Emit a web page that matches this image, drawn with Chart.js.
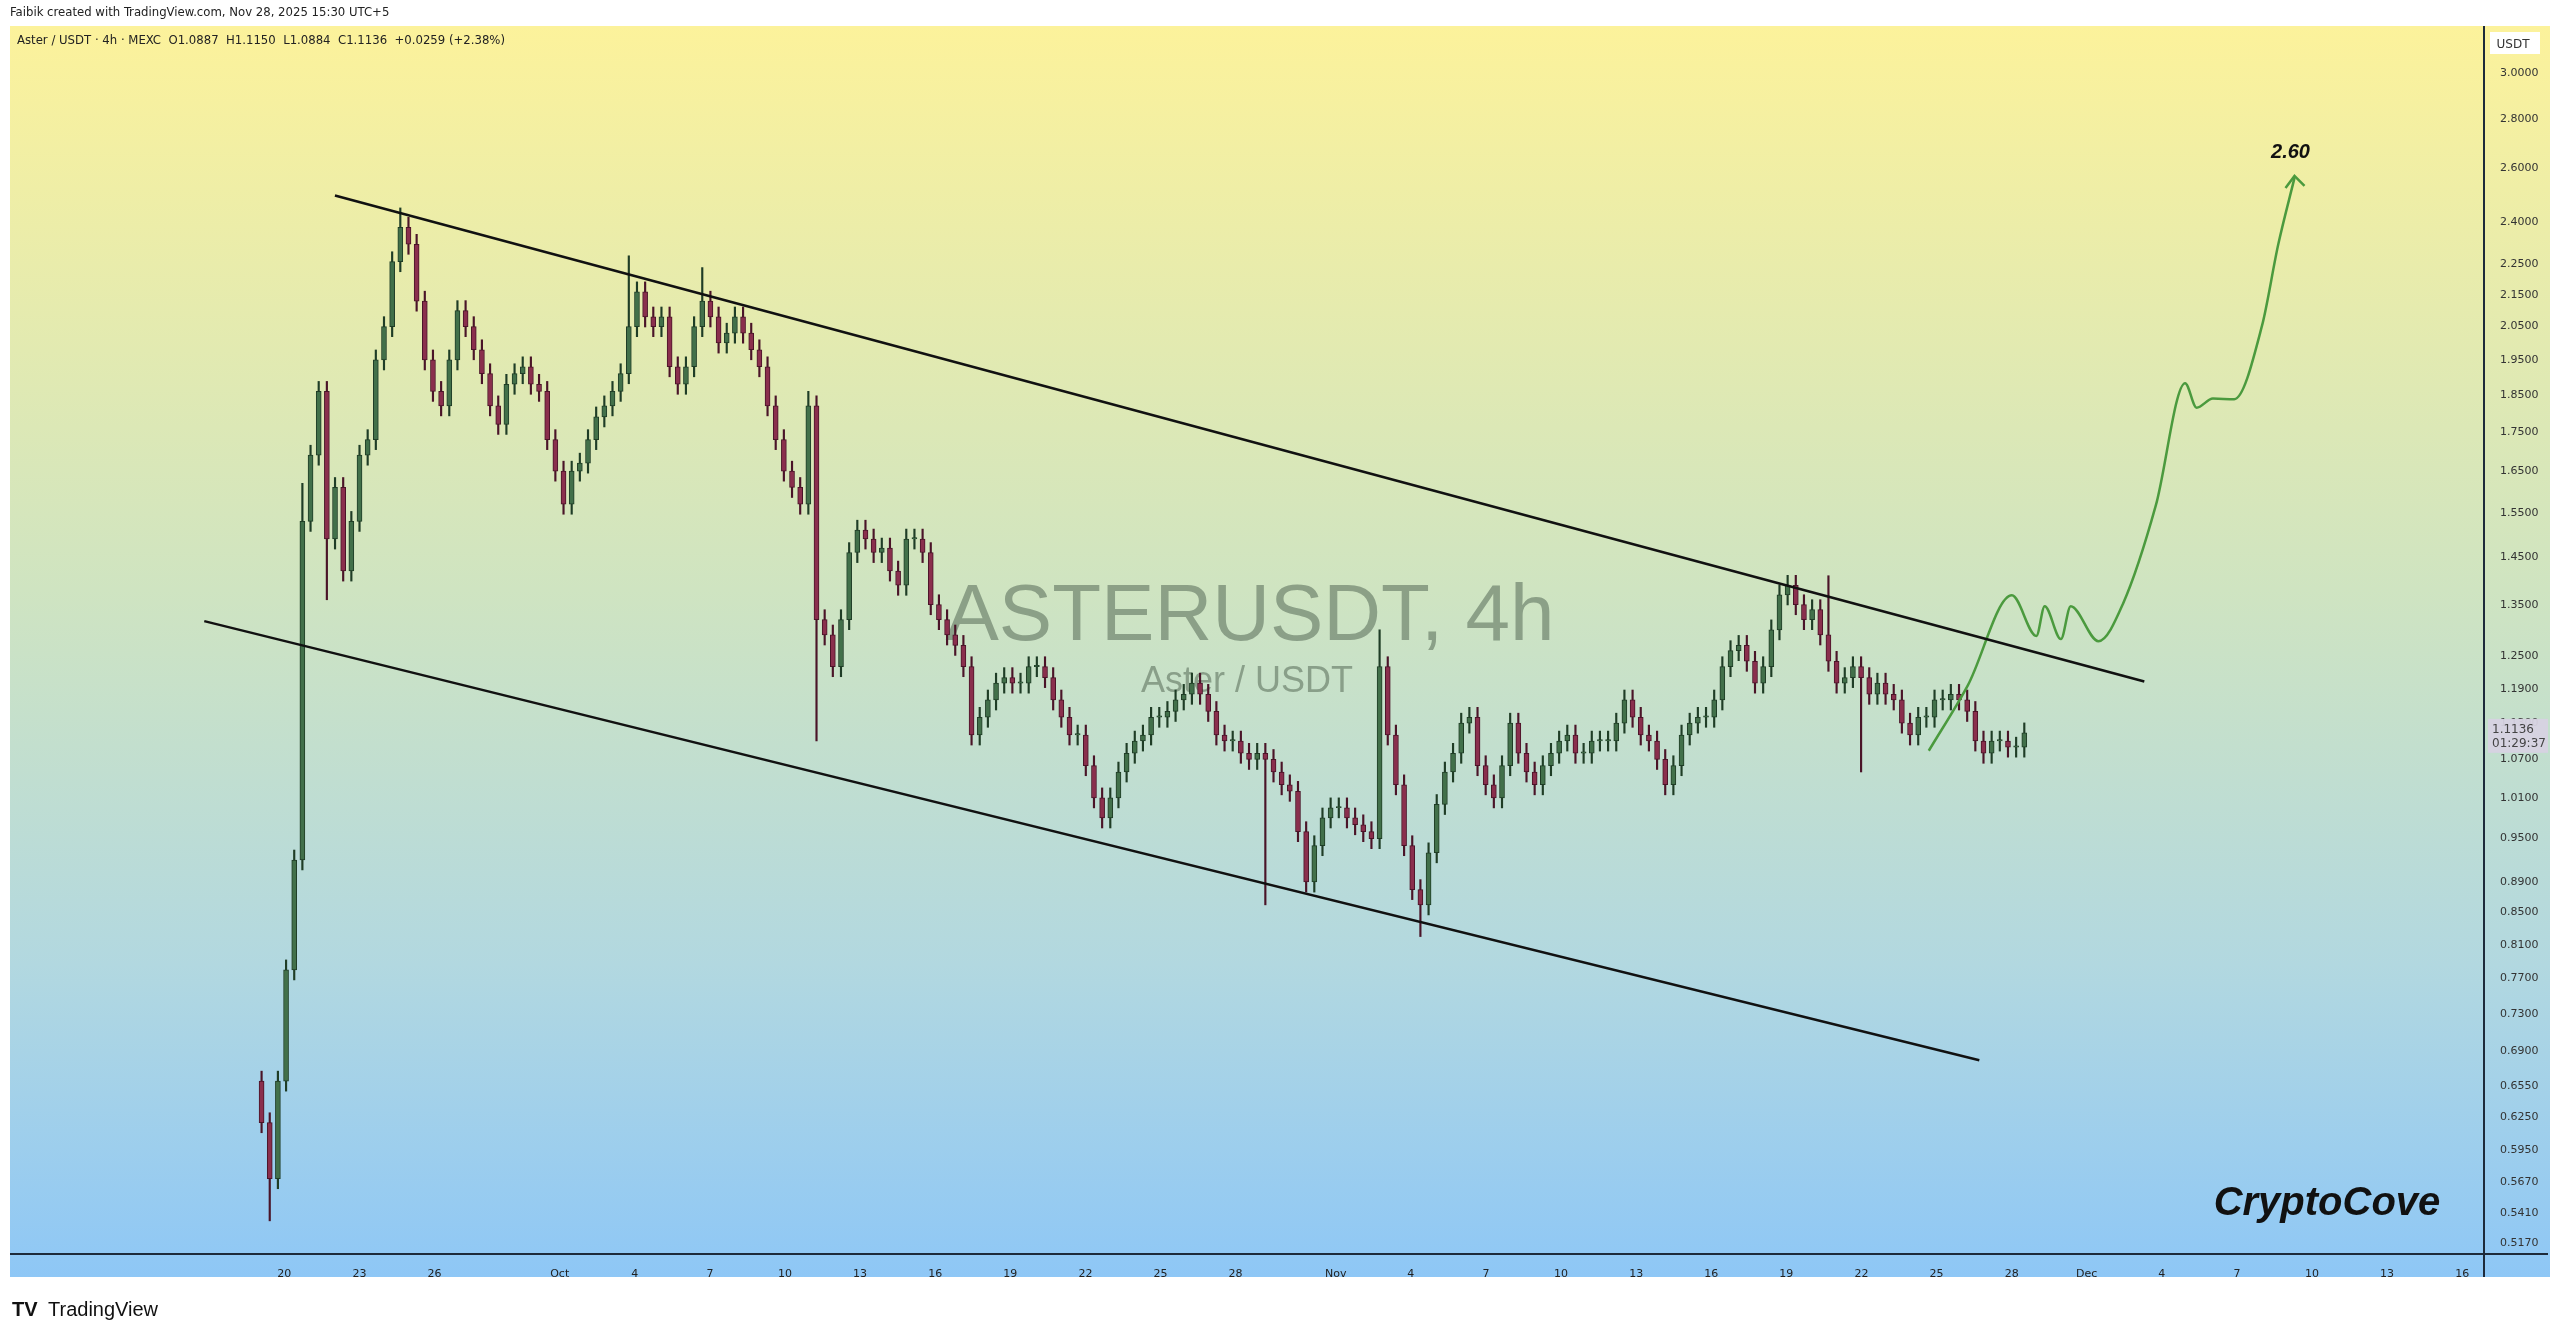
<!DOCTYPE html>
<html>
<head>
<meta charset="utf-8">
<script src="https://cdn.jsdelivr.net/npm/chart.js@4.4.0/dist/chart.umd.min.js"></script>
<style>
  html, body { margin: 0; padding: 0; background: #ffffff; overflow: hidden; }
  #c { position: absolute; left: 0; top: 0; width: 2560px; height: 1339px; }
</style>
</head>
<body>
<canvas id="c" width="2560" height="1339"></canvas>
<script>
// day numbers: Sep 1 = 1, Oct 1 = 31, Nov 1 = 62, Dec 1 = 92
const startDay = 19.09;
const candleStep = 0.326;

// closes, one per candle step
const closes = [
  0.62,0.57,0.66,0.78,0.92,1.53,1.69,1.86,1.49,1.61,1.42,1.53,1.69,1.73,1.95,2.05,2.26,2.38,2.32,2.13,
  1.95,1.86,1.82,1.95,2.10,2.05,1.98,1.91,1.82,1.77,1.88,1.91,1.93,1.88,1.86,1.73,1.65,1.57,1.65,1.67,
  1.73,1.79,1.82,1.86,1.91,2.05,2.16,2.08,2.05,2.08,1.93,1.88,1.93,2.05,2.13,2.08,2.00,2.03,2.08,2.03,
  1.98,1.93,1.82,1.73,1.65,1.61,1.57,1.82,1.32,1.29,1.23,1.32,1.46,1.51,1.49,1.46,1.47,1.42,1.39,1.49,
  1.49,1.46,1.35,1.32,1.29,1.27,1.23,1.11,1.14,1.17,1.20,1.21,1.20,1.20,1.23,1.23,1.21,1.17,1.14,1.11,
  1.11,1.06,1.01,0.98,1.01,1.05,1.08,1.10,1.11,1.14,1.14,1.15,1.17,1.18,1.20,1.18,1.15,1.11,1.10,1.10,
  1.08,1.07,1.08,1.07,1.05,1.03,1.02,0.96,0.89,0.94,0.98,0.995,0.995,0.98,0.97,0.96,0.95,1.23,1.11,1.03,
  0.94,0.88,0.86,0.93,1.00,1.05,1.08,1.13,1.14,1.06,1.03,1.01,1.06,1.13,1.08,1.05,1.03,1.06,1.08,1.10,
  1.11,1.08,1.08,1.10,1.10,1.10,1.13,1.17,1.14,1.11,1.10,1.07,1.03,1.06,1.11,1.13,1.14,1.14,1.17,1.23,
  1.26,1.27,1.24,1.20,1.23,1.30,1.37,1.39,1.35,1.32,1.34,1.29,1.24,1.20,1.21,1.23,1.21,1.18,1.20,1.18,
  1.17,1.13,1.11,1.14,1.14,1.17,1.17,1.18,1.17,1.15,1.10,1.08,1.10,1.10,1.09,1.09,1.1136
];
const firstOpen = 0.66;
const wickPad = 0.015;
// long wicks that stand out in the picture (candle index -> price)
const highWicks = { 5: 1.62, 17: 2.45, 45: 2.28, 54: 2.24, 67: 1.86, 137: 1.30, 192: 1.41 };
const lowWicks = { 1: 0.535, 8: 1.36, 68: 1.10, 123: 0.86, 142: 0.82, 196: 1.05 };

// channel lines: [day, price]
const upperChannel = [[22.02, 2.496], [94.30, 1.203]];
const lowerChannel = [[16.80, 1.317], [87.71, 0.681]];
// projected path
const projDays = [85.69, 87.25, 89.01, 89.99, 90.32, 90.97, 91.36, 92.47, 93.45, 94.76, 95.93, 96.39, 97.04, 97.89, 99.00, 99.65, 100.30];
const projPrices = [1.084, 1.196, 1.369, 1.288, 1.347, 1.282, 1.347, 1.278, 1.352, 1.567, 1.883, 1.815, 1.840, 1.838, 2.052, 2.319, 2.563];

const priceTicks = [0.517, 0.541, 0.567, 0.595, 0.625, 0.655, 0.69, 0.73, 0.77, 0.81, 0.85, 0.89, 0.95, 1.01, 1.07, 1.13,
  1.19, 1.25, 1.35, 1.45, 1.55, 1.65, 1.75, 1.85, 1.95, 2.05, 2.15, 2.25, 2.4, 2.6, 2.8, 3.0];
const dayTicks = [20, 23, 26, 31, 34, 37, 40, 43, 46, 49, 52, 55, 58, 62, 65, 68, 71, 74, 77, 80, 83, 86, 89, 92, 95, 98, 101, 104, 107];
const dayLabels = ['20','23','26','Oct','4','7','10','13','16','19','22','25','28','Nov','4','7','10','13','16','19','22','25','28','Dec','4','7','10','13','16'];

const GREEN = '#42704a', RED = '#8a2f4d', EDGE_G = '#1f3d26', EDGE_R = '#4a1428';

const bodies = [], wicks = [];
closes.forEach((c, i) => {
  const o = i === 0 ? firstOpen : closes[i - 1];
  const x = startDay + i * candleStep;
  const hi = highWicks[i] || Math.max(o, c) * (1 + wickPad);
  const lo = lowWicks[i] || Math.min(o, c) * (1 - wickPad);
  bodies.push({ x: x, y: [o, c === o ? c * 1.002 : c], up: c >= o });
  wicks.push({ x: x, y: [lo, hi], up: c >= o });
});

const bgPlugin = {
  id: 'bg',
  beforeDraw(chart) {
    const ctx = chart.ctx;
    const g = ctx.createLinearGradient(0, 26, 0, 1277);
    g.addColorStop(0, '#fcf29b');
    g.addColorStop(0.45, '#cfe4c1');
    g.addColorStop(0.75, '#b2d8e0');
    g.addColorStop(1, '#8ec7f6');
    ctx.save();
    ctx.fillStyle = '#ffffff';
    ctx.fillRect(0, 0, 2560, 1339);
    ctx.fillStyle = g;
    ctx.fillRect(10, 26, 2550 - 10, 1277 - 26);
    // header
    ctx.fillStyle = '#222';
    ctx.font = '13px "Liberation Sans Narrow", "DejaVu Sans Condensed", sans-serif';
    ctx.fillText('Faibik created with TradingView.com, Nov 28, 2025 15:30 UTC+5', 10, 16);
    ctx.fillText('Aster / USDT · 4h · MEXC  O1.0887  H1.1150  L1.0884  C1.1136  +0.0259 (+2.38%)', 17, 44);
    // watermark
    ctx.textAlign = 'center';
    ctx.fillStyle = 'rgba(95,115,95,0.6)';
    ctx.font = '80px "Liberation Sans", Arial, sans-serif';
    ctx.fillText('ASTERUSDT, 4h', 1250, 640);
    ctx.font = '36px "Liberation Sans", Arial, sans-serif';
    ctx.fillText('Aster / USDT', 1247, 692);
    ctx.restore();
  },
  afterDraw(chart) {
    const ctx = chart.ctx, a = chart.chartArea;
    ctx.save();
    ctx.strokeStyle = '#1d2a3a';
    ctx.lineWidth = 2;
    ctx.beginPath(); ctx.moveTo(a.left, a.bottom); ctx.lineTo(2548, a.bottom); ctx.stroke();
    ctx.beginPath(); ctx.moveTo(a.right, 26); ctx.lineTo(a.right, 1277); ctx.stroke();
    // arrow head on projection
    const xs = chart.scales.x, ys = chart.scales.y;
    const n = projDays.length;
    const px = xs.getPixelForValue(projDays[n - 1]), py = ys.getPixelForValue(projPrices[n - 1]);
    ctx.strokeStyle = '#4b9a3e'; ctx.lineWidth = 2.5;
    ctx.beginPath(); ctx.moveTo(px - 9, py + 10); ctx.lineTo(px, py - 2); ctx.lineTo(px + 10, py + 8); ctx.stroke();
    ctx.fillStyle = '#111';
    ctx.font = 'italic bold 20px "Liberation Sans", Arial, sans-serif';
    ctx.textAlign = 'center';
    ctx.fillText('2.60', px - 4, py - 20);
    ctx.font = 'italic bold 40px "Liberation Sans", Arial, sans-serif';
    ctx.fillText('CryptoCove', 2327, 1215);
    // USDT box and last price
    ctx.fillStyle = '#ffffff';
    ctx.fillRect(2490, 32, 50, 22);
    ctx.fillStyle = '#333'; ctx.font = '12px "DejaVu Sans", sans-serif';
    ctx.fillText('USDT', 2513, 48);
    const ly = ys.getPixelForValue(closes[closes.length - 1]);
    ctx.fillStyle = 'rgba(215,210,225,0.95)';
    ctx.fillRect(2488, ly - 14, 60, 34);
    ctx.fillStyle = '#444'; ctx.textAlign = 'left';
    ctx.fillText('1.1136', 2492, ly);
    ctx.fillText('01:29:37', 2492, ly + 14);
    // footer logo
    ctx.fillStyle = '#111';
    ctx.font = 'bold 20px "Liberation Sans", Arial, sans-serif';
    ctx.fillText('TV', 12, 1316);
    ctx.font = '20px "Liberation Sans Narrow", "Liberation Sans", sans-serif';
    ctx.fillText('TradingView', 48, 1316);
    ctx.restore();
  }
};

new Chart(document.getElementById('c'), {
  data: {
    datasets: [
      {
        type: 'bar', data: wicks, grouped: false, barThickness: 1.5, order: 3,
        backgroundColor: c => (c.raw && c.raw.up ? EDGE_G : EDGE_R)
      },
      {
        type: 'bar', data: bodies, grouped: false, barThickness: 5, order: 2, borderWidth: 1,
        backgroundColor: c => (c.raw && c.raw.up ? GREEN : RED),
        borderColor: c => (c.raw && c.raw.up ? EDGE_G : EDGE_R), borderSkipped: false
      },
      {
        type: 'line', data: upperChannel.map(p => ({ x: p[0], y: p[1] })), borderColor: '#111',
        borderWidth: 2.5, pointRadius: 0, order: 1
      },
      {
        type: 'line', data: lowerChannel.map(p => ({ x: p[0], y: p[1] })), borderColor: '#111',
        borderWidth: 2.5, pointRadius: 0, order: 1
      },
      {
        type: 'line', data: projDays.map((d, i) => ({ x: d, y: projPrices[i] })), borderColor: '#4b9a3e',
        borderWidth: 2.5, pointRadius: 0, cubicInterpolationMode: 'monotone', order: 1
      }
    ]
  },
  options: {
    responsive: false,
    animation: false,
    devicePixelRatio: 1,
    layout: { padding: { left: 10, right: 12, top: 26, bottom: 62 } },
    plugins: { legend: { display: false }, tooltip: { enabled: false } },
    scales: {
      x: {
        type: 'linear', min: 9.04, max: 107.87, offset: false,
        grid: { display: false }, border: { display: false },
        afterBuildTicks: s => { s.ticks = dayTicks.map(v => ({ value: v })); },
        afterFit: s => { s.height = 23; },
        ticks: {
          autoSkip: false, maxRotation: 0, color: '#222', padding: 6,
          font: { size: 11, family: 'DejaVu Sans' },
          callback: v => dayLabels[dayTicks.indexOf(v)]
        }
      },
      y: {
        type: 'logarithmic', position: 'right', min: 0.509, max: 3.22,
        grid: { display: false }, border: { display: false },
        afterBuildTicks: s => { s.ticks = priceTicks.map(v => ({ value: v })); },
        afterFit: s => { s.width = 64; },
        ticks: {
          autoSkip: false, color: '#333', padding: 8,
          font: { size: 11, family: 'DejaVu Sans' },
          callback: v => Number(v).toFixed(4)
        }
      }
    }
  },
  plugins: [bgPlugin]
});
</script>
</body>
</html>
